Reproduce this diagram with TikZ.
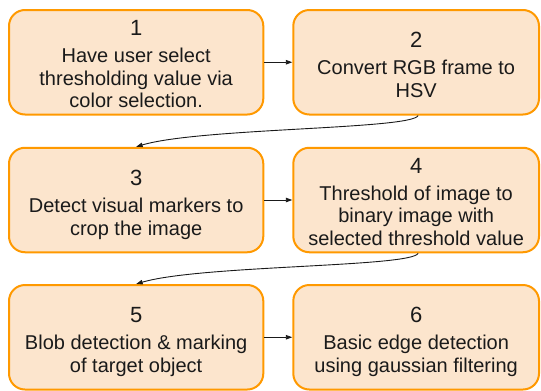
\documentclass[tikz,border=0pt]{standalone}
\usepackage{fontspec}
\setmainfont{Liberation Sans}
\usetikzlibrary{arrows.meta}
\definecolor{boxfill}{HTML}{FCE5CD}
\definecolor{boxline}{HTML}{FF9900}
\definecolor{inkcol}{HTML}{1A1A1A}
\newcommand\stepnum{\fontsize{22}{25}\selectfont}
\begin{document}
\begin{tikzpicture}[x=1pt,y=-1pt,
  stepbox/.style={draw=boxline, fill=boxfill, line width=2pt, rounded corners=16pt, inner sep=0pt, minimum height=104.5pt},
  wideA/.style={minimum width=254.3pt},
  wideB/.style={minimum width=245.7pt},
  txt/.style={align=center, inner sep=0pt, font=\fontsize{20}{22.6}\selectfont, text=inkcol, anchor=north},
  conn/.style={draw=inkcol, line width=0.9pt, -{Triangle[length=6.5pt,width=4.5pt]}}]
\useasboundingbox (0,0) rectangle (541,391);
% boxes
\node[stepbox, wideA] (b1) at (136.15,62.25) {};
\node[stepbox, wideB] (b2) at (416.15,62.25) {};
\node[stepbox, wideA] (b3) at (136.15,200) {};
\node[stepbox, wideB] (b4) at (416.15,200) {};
\node[stepbox, wideA] (b5) at (136.15,337.25) {};
\node[stepbox, wideB] (b6) at (416.15,337.25) {};
% texts
\node[txt] (t1) at ([yshift=-11.5pt]b1.north) {{\stepnum 1}\\[4.2pt]Have user select\\thresholding value via\\color selection.};
\node[txt] (t2) at ([yshift=-23.3pt]b2.north) {{\stepnum 2}\\[4.2pt]Convert RGB frame to\\HSV};
\node[txt] (t3) at ([yshift=-23.3pt]b3.north) {{\stepnum 3}\\[4.2pt]Detect visual markers to\\crop the image};
\node[txt] (t4) at ([yshift=-11.5pt]b4.north) {{\stepnum 4}\\[4.2pt]Threshold of image to\\binary image with\\selected threshold value};
\node[txt] (t5) at ([yshift=-23.3pt]b5.north) {{\stepnum 5}\\[4.2pt]Blob detection \& marking\\of target object};
\node[txt] (t6) at ([yshift=-23.3pt]b6.north) {{\stepnum 6}\\[4.2pt]Basic edge detection\\using gaussian filtering};
% connectors
\draw[conn] (b1.east) -- (b2.west);
\draw[conn] (b3.east) -- (b4.west);
\draw[conn] (b5.east) -- (b6.west);
\draw[conn] ([xshift=2pt]b2.south) .. controls +(-6,14) and +(64,-19) .. (b3.north);
\draw[conn] ([xshift=2pt]b4.south) .. controls +(-6,14) and +(64,-19) .. (b5.north);
\end{tikzpicture}
\end{document}
